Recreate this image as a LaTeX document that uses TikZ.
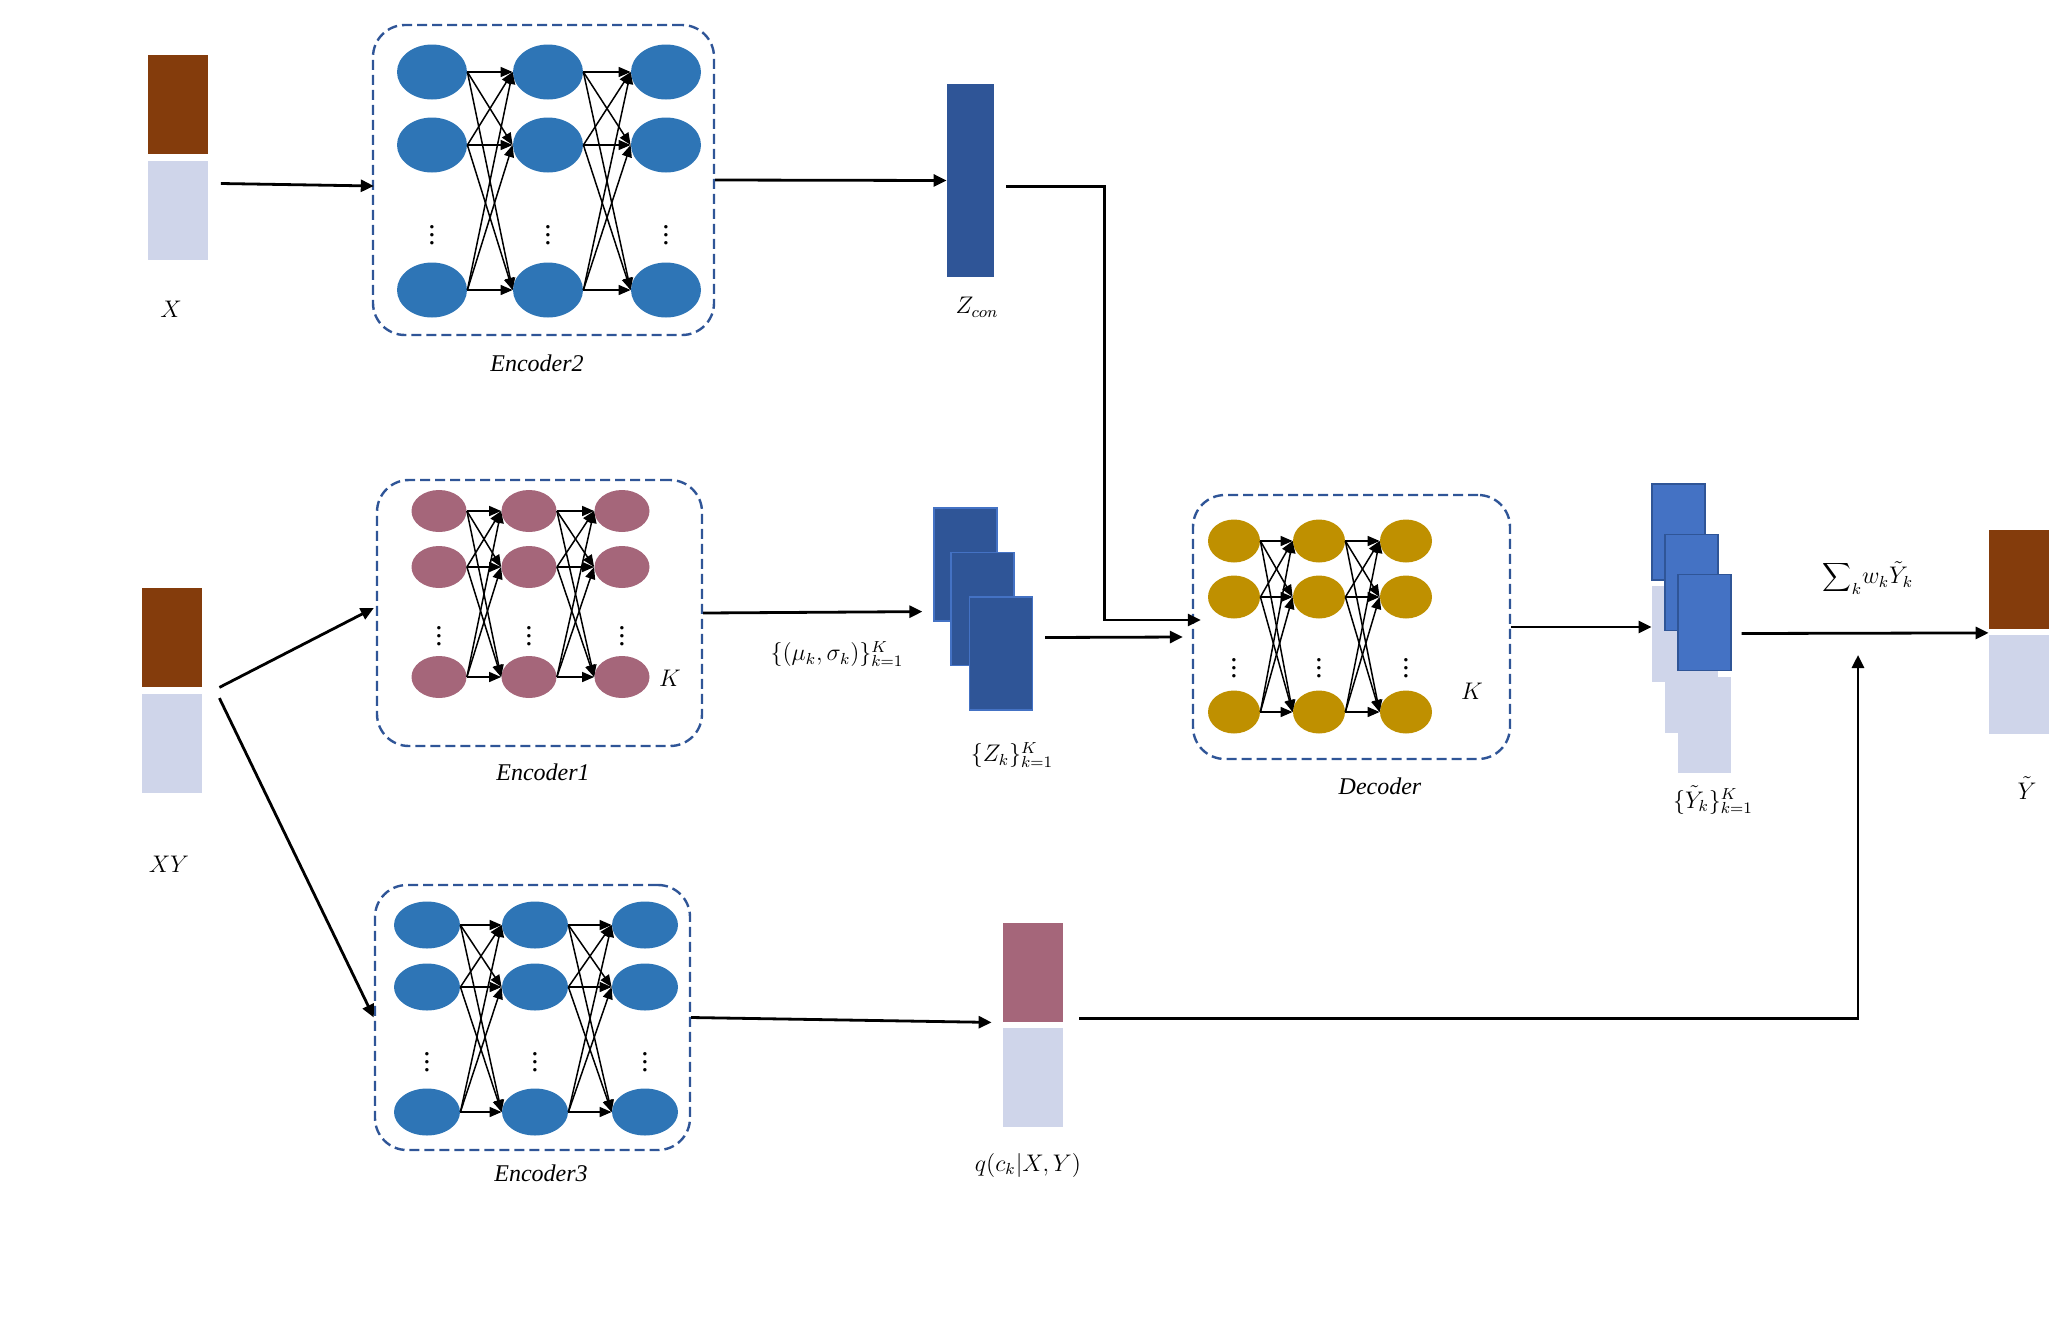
\documentclass[tikz,border=0pt]{standalone}
\usepackage{fontspec}
\setmainfont{Liberation Serif}
\usepackage{tikz}
\usetikzlibrary{shapes.geometric,arrows.meta,calc,positioning}
\usepackage{xcolor}

\definecolor{vecbrown}{HTML}{843C0C}
\definecolor{veclight}{HTML}{CFD5EA}
\definecolor{unitblue}{HTML}{2E75B6}
\definecolor{unitmauve}{HTML}{A5667A}
\definecolor{unitgold}{HTML}{BF9000}
\definecolor{zblue}{HTML}{2F5597}
\definecolor{yblue}{HTML}{4472C4}

\begin{document}
\begin{tikzpicture}[x=0.5pt,y=-0.5pt,
	  every node/.style={align=center,inner sep=0pt,draw=none},
	  netbox/.style={draw=zblue,line width=1.2pt,dash pattern=on 5pt off 2.5pt,rounded corners=16pt},
	  blueunit/.style={ellipse,fill=unitblue},
	  mauveunit/.style={ellipse,fill=unitmauve,minimum width=27.5pt,minimum height=21pt},
	  goldunit/.style={ellipse,fill=unitgold,minimum width=26pt,minimum height=21.5pt},
	  brownvec/.style={fill=vecbrown,minimum width=30pt,minimum height=49.5pt},
	  lightvec/.style={fill=veclight,minimum width=30pt,minimum height=49.5pt},
	  mauvevec/.style={fill=unitmauve,minimum width=30pt,minimum height=49.5pt},
	  zvec/.style={fill=zblue,draw=yblue,line width=0.6pt,minimum width=31.5pt,minimum height=56.5pt},
	  yvec/.style={fill=yblue,draw=zblue,line width=0.6pt,minimum width=26.5pt,minimum height=48pt},
	  ylight/.style={fill=veclight,minimum width=26.5pt,minimum height=48pt},
	  dots/.style={font=\Large},
	  link/.style={-{Triangle[length=6pt,width=5pt]},line width=0.75pt},
	  flow/.style={-{Triangle[length=6.5pt,width=6pt]},line width=1.4pt},
	  label/.style={font=\large},
	  title/.style={font=\large\itshape}]

	  \useasboundingbox (0,0) rectangle (2068,1324);

	  % input vectors
	  \node[brownvec] (xtop) at (177.5,104.5) {};
	  \node[lightvec] (xbot) at (177.5,210.5) {};
	  \node[label] (xlab) at (171,309) {$X$};
	  \node[brownvec] (xytop) at (172,637.5) {};
	  \node[lightvec] (xybot) at (172,743) {};
	  \node[label] (xylab) at (169,864) {$XY$};

	  % networks
	  \node[netbox,minimum width=170.5pt,minimum height=155pt] (enc2) at (543.5,180) {};
	  \node[title] (enc2lab) at (537,363) {Encoder2};
	  \foreach \c/\x in {1/432,2/548,3/666}{
	    \foreach \r/\y in {1/72,2/145,3/290}
	      \node[blueunit,minimum width=35pt,minimum height=27.5pt] (e2-\c-\r) at (\x,\y) {};
	    \node[dots] (e2-\c-d) at (\x,229) {$\vdots$};
	  }

	  \node[netbox,minimum width=162.5pt,minimum height=133pt] (enc1) at (539.5,613) {};
	  \node[title] (enc1lab) at (543,772) {Encoder1};
	  \node[label] (enc1k) at (670,678) {$K$};
	  \foreach \c/\x in {1/439,2/529,3/622}{
	    \foreach \r/\y in {1/511,2/567,3/677}
	      \node[mauveunit] (e1-\c-\r) at (\x,\y) {};
	    \node[dots] (e1-\c-d) at (\x,630) {$\vdots$};
	  }

	  \node[netbox,minimum width=157.5pt,minimum height=132.5pt] (enc3) at (532.5,1017.5) {};
	  \node[title] (enc3lab) at (541,1173) {Encoder3};
	  \foreach \c/\x in {1/427,2/535,3/645}{
	    \foreach \r/\y in {1/925,2/987,3/1112}
	      \node[blueunit,minimum width=33pt,minimum height=23.5pt] (e3-\c-\r) at (\x,\y) {};
	    \node[dots] (e3-\c-d) at (\x,1056) {$\vdots$};
	  }

	  \node[netbox,minimum width=158.5pt,minimum height=132pt] (dec) at (1351.5,627) {};
	  \node[title] (declab) at (1380,786) {Decoder};
	  \node[label] (deck) at (1472,691) {$K$};
	  \foreach \c/\x in {1/1234,2/1319,3/1406}{
	    \foreach \r/\y in {1/541,2/597,3/712}
	      \node[goldunit] (d-\c-\r) at (\x,\y) {};
	    \node[dots] (d-\c-d) at (\x,662) {$\vdots$};
	  }

	  % fully connected layers
	  \foreach \net in {e2,e1,e3,d}
	    \foreach \c/\n in {1/2,2/3}
	      \foreach \r in {1,2,3}
	        \foreach \s in {1,2,3}
	          \draw[link] (\net-\c-\r.east) -- (\net-\n-\s.west);

	  % latent codes
	  \node[fill=zblue,minimum width=23.5pt,minimum height=96.5pt] (zcon) at (970.5,180.5) {};
	  \node[label] (zconlab) at (977,307) {$Z_{con}$};
	  \node[zvec] (zk1) at (965.5,564.5) {};
	  \node[zvec] (zk2) at (982.5,609) {};
	  \node[zvec] (zk3) at (1001,653.5) {};
	  \node[label] (zklab) at (1012,755) {$\{Z_k\}_{k=1}^{K}$};
	  \node[label] (mslab) at (837,654) {$\{(\mu_k,\sigma_k)\}_{k=1}^{K}$};

	  % cluster weights
	  \node[mauvevec] (qtop) at (1033,972.5) {};
	  \node[lightvec] (qbot) at (1033,1077.5) {};
	  \node[label] (qlab) at (1028,1165) {$q(c_k|X,Y)$};

	  % decoded outputs
	  \node[yvec] (ytop1) at (1678.5,532) {};
	  \node[ylight] (ybot1) at (1678.5,633.5) {};
	  \node[yvec] (ytop2) at (1691.5,582.5) {};
	  \node[ylight] (ybot2) at (1691.5,684.5) {};
	  \node[ylight] (ybot3) at (1704.5,724.5) {};
	  \node[yvec] (ytop3) at (1704.5,622.5) {};
	  \node[label] (yklab) at (1713,800) {$\{\tilde{Y}_k\}_{k=1}^{K}$};

	  \node[brownvec] (youttop) at (2019,579) {};
	  \node[lightvec] (youtbot) at (2019,684) {};
	  \node[label] (youtlab) at (2027,788) {$\tilde{Y}$};

	  \node[font=\large] (sumlab) at (1868,578) {${\displaystyle\sum\nolimits_k} w_k\tilde{Y}_k$};
	  \coordinate (wsum) at (1858,655);

	  % data flow
	  \draw[flow] ($(xbot.east)+(13,-27)$) -- ($(enc2.west)+(2,6)$);
	  \draw[flow] (enc2.east) -- (zcon.west);
	  \draw[flow] ($(zcon.east)+(12,6)$) -- ++(98,0) |- ($(dec.west)+(9,-7)$);
	  \draw[flow] ($(xytop.south east)+(17,0)$) -- ($(enc1.west)+(-2,-5)$);
	  \draw[flow] ($(xybot.north east)+(17,5)$) -- (enc3.west);
	  \draw[flow] (enc1.east) -- ($(zk1.south west)+(-11,-10)$);
	  \draw[flow] ($(zk3.east)+(12,-16)$) -- ($(dec.west)+(-9,10)$);
	  \draw[flow] (dec.east) -- (dec.east -| ybot1.west);
	  \draw[flow] ($(ytop3.east)+(10,11)$) -- ($(youttop.south west)+(0,4)$);
	  \draw[flow] (enc3.east) -- ($(qtop.south west)+(-11,0)$);
	  \draw[flow] ($(qtop.south east)+(16,-4)$) -| (wsum);

\end{tikzpicture}
\end{document}
